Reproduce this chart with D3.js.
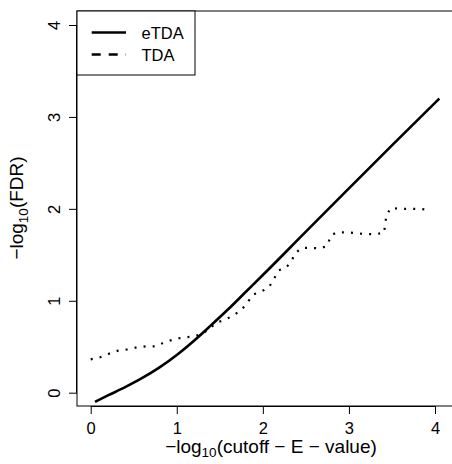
<!DOCTYPE html>
<html><head><meta charset="utf-8">
<script src="https://cdn.jsdelivr.net/npm/d3@7"></script>
<style>body{margin:0;background:#fff}svg{display:block}</style>
</head><body>
<script>
// Data
const etdaX = [0.05, 0.2, 0.4, 0.6, 0.8, 1.0, 1.2, 1.4, 1.6, 1.8, 2.0, 2.5, 3.0, 3.5, 4.05];
const etdaY = [-0.10, -0.03, 0.06, 0.16, 0.275, 0.41, 0.565, 0.735, 0.91, 1.095, 1.28, 1.752, 2.222, 2.69, 3.2];
const tdaX = [0.0, 0.108, 0.213, 0.317, 0.425, 0.534, 0.646, 0.758, 0.863, 0.967, 1.076, 1.18, 1.3, 1.46, 1.57, 1.66, 1.76, 1.82, 1.89, 1.98, 2.07, 2.13, 2.18, 2.27, 2.33, 2.38, 2.45, 2.57, 2.67, 2.75, 2.79, 2.86, 2.98, 3.09, 3.2, 3.31, 3.41, 3.42, 3.44, 3.49, 3.6, 3.71, 3.82, 3.95];
const tdaY = [0.363, 0.385, 0.424, 0.457, 0.472, 0.493, 0.504, 0.504, 0.551, 0.58, 0.602, 0.609, 0.64, 0.76, 0.80, 0.84, 0.91, 0.98, 1.07, 1.10, 1.145, 1.24, 1.33, 1.36, 1.43, 1.52, 1.575, 1.575, 1.57, 1.60, 1.71, 1.745, 1.745, 1.735, 1.725, 1.725, 1.74, 1.84, 1.94, 2.01, 2.0, 2.0, 2.0, 1.985];
const xTicks = [0, 1, 2, 3, 4];
const yTicks = [0, 1, 2, 3, 4];
const legendLabels = ["eTDA", "TDA"];

const W = 452, H = 464;
const box = {l: 77, t: 11, r: 465, b: 406};
const font = "'Liberation Sans', Arial, Helvetica, sans-serif";

const svg = d3.select("body").append("svg").attr("width", W).attr("height", H);
const x = d3.scaleLinear().domain([0, 4]).range([90.7, 435]);
const y = d3.scaleLinear().domain([0, 4]).range([392.7, 25]);

// plot box
svg.append("rect").attr("x", box.l).attr("y", box.t).attr("width", box.r - box.l).attr("height", box.b - box.t)
  .attr("fill", "none").attr("stroke", "#000").attr("stroke-width", 1);

// axes
const xAxis = svg.append("g").attr("transform", `translate(0,${box.b})`)
  .call(d3.axisBottom(x).tickValues(xTicks).tickFormat(d3.format("d")).tickSize(8).tickPadding(8));
const yAxis = svg.append("g").attr("transform", `translate(${box.l},0)`)
  .call(d3.axisLeft(y).tickValues(yTicks).tickFormat(d3.format("d")).tickSize(8).tickPadding(9));
[xAxis, yAxis].forEach(g => {
  g.select(".domain").attr("stroke", "#000").attr("stroke-width", 1);
  g.selectAll(".tick line").attr("stroke", "#000").attr("stroke-width", 1);
  g.selectAll("text").attr("font-family", font).attr("font-size", 16.5).attr("fill", "#000");
});
xAxis.select(".domain").attr("d", `M${x(0)},0.5H${x(4)}`);
yAxis.select(".domain").attr("d", `M-0.5,${y(0)}V${y(4)}`);
xAxis.selectAll("text").attr("dy", "0.71em");
yAxis.selectAll(".tick text")
  .attr("text-anchor", "middle").attr("x", 0).attr("dy", 0)
  .attr("transform", "translate(-17.5,0) rotate(-90)");

// lines
const line = d3.line().x(d => x(d[0])).y(d => y(d[1]));
svg.append("path").datum(etdaX.map((v, i) => [v, etdaY[i]])).attr("d", line.curve(d3.curveMonotoneX))
  .attr("fill", "none").attr("stroke", "#000").attr("stroke-width", 2.6);
const line2 = d3.line().x(d => x(d[0])).y(d => y(d[1]));
svg.append("path").datum(tdaX.map((v, i) => [v, tdaY[i]])).attr("d", line2)
  .attr("fill", "none").attr("stroke", "#000").attr("stroke-width", 2.2).attr("stroke-dasharray", "2,7.1");

// legend
const lg = svg.append("g");
lg.append("rect").attr("x", box.l).attr("y", box.t).attr("width", 195 - box.l).attr("height", 75 - box.t)
  .attr("fill", "#fff").attr("stroke", "#000").attr("stroke-width", 1);
const ly = [32.5, 54.5];
lg.append("line").attr("x1", 91.7).attr("x2", 126).attr("y1", ly[0]).attr("y2", ly[0])
  .attr("stroke", "#000").attr("stroke-width", 2.6);
lg.append("line").attr("x1", 91.7).attr("x2", 126).attr("y1", ly[1]).attr("y2", ly[1])
  .attr("stroke", "#000").attr("stroke-width", 2.6).attr("stroke-dasharray", "9,8");
lg.selectAll("text.lab").data(legendLabels).join("text").attr("class", "lab")
  .attr("x", 141.5).attr("y", (d, i) => ly[i] + 6)
  .attr("font-family", font).attr("font-size", 16.5).text(d => d);

// axis labels
const xl = svg.append("text").attr("x", 271).attr("y", 452.5).attr("text-anchor", "middle")
  .attr("font-family", font).attr("font-size", 19);
xl.append("tspan").text("\u2212log");
xl.append("tspan").attr("font-size", 13.5).attr("dy", 4.5).text("10");
xl.append("tspan").attr("dy", -4.5).text("(cutoff \u2212 E \u2212 value)");

const yl = svg.append("text").attr("transform", "translate(23,208) rotate(-90)").attr("text-anchor", "middle")
  .attr("font-family", font).attr("font-size", 19);
yl.append("tspan").text("\u2212log");
yl.append("tspan").attr("font-size", 13.5).attr("dy", 4.5).text("10");
yl.append("tspan").attr("dy", -4.5).text("(FDR)");
</script>
</body></html>
